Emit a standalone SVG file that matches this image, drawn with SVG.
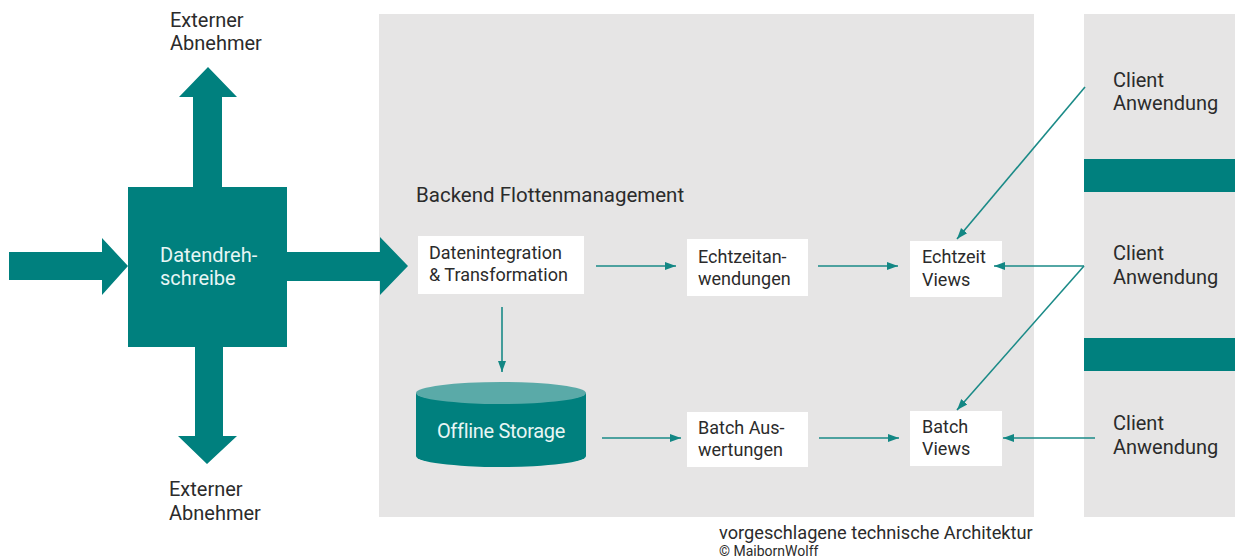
<svg xmlns="http://www.w3.org/2000/svg" width="1235" height="560" viewBox="0 0 1235 560">
  <defs>
    <style>
      .t { font-family: Roboto, "Liberation Sans", sans-serif; fill: #2b2b2b; }
      .t20 { font-size: 20px; }
      .t18 { font-size: 18px; }
      .w { fill: #e8f6f5; }
      .teal { fill: #00807e; }
      .panel { fill: #e6e5e5; }
      .box { fill: #ffffff; }
      .conn { stroke: #1a8a87; stroke-width: 1.6; fill: none; marker-end: url(#ah); }
    </style>
    <marker id="ah" markerUnits="userSpaceOnUse" markerWidth="12" markerHeight="10" refX="11" refY="5" orient="auto">
      <path d="M0,1 L11,5 L0,9 Z" fill="#138784"/>
    </marker>
  </defs>

  <rect width="1235" height="560" fill="#ffffff"/>

  <!-- panels -->
  <g id="backend-panel">
    <rect class="panel" x="379" y="14" width="655" height="503"/>
    <text class="t" x="416" y="202" font-size="20.5">Backend Flottenmanagement</text>
  </g>
  <g id="client-panel">
    <rect class="panel" x="1084" y="14" width="151" height="503"/>
    <rect class="teal" x="1084" y="159" width="151" height="33"/>
    <rect class="teal" x="1084" y="338" width="151" height="33"/>
  </g>

  <!-- Datendrehschreibe with big arrows -->
  <g id="datendrehschreibe">
    <path class="teal" d="M9,252 H102 V238 L128,266 L102,295 V280 H9 Z"/>
    <path class="teal" d="M193,187 V97 H179 L208,67 L237,97 H222 V187 Z"/>
    <path class="teal" d="M195,347 V436 H178 L207,464 L237,436 H223 V347 Z"/>
    <path class="teal" d="M287,252 H380 V237 L408,266 L380,295 V281 H287 Z"/>
    <rect class="teal" x="128" y="187" width="159" height="160"/>
    <text class="t t20 w" x="160" y="262">Datendreh-</text>
    <text class="t t20 w" x="160" y="285">schreibe</text>
  </g>

  <g id="extern-top">
    <text class="t t20" x="170" y="27">Externer</text>
    <text class="t t20" x="170" y="50">Abnehmer</text>
  </g>
  <g id="extern-bottom">
    <text class="t t20" x="169" y="496">Externer</text>
    <text class="t t20" x="169" y="520">Abnehmer</text>
  </g>

  <g id="datenintegration">
    <rect class="box" x="418" y="236" width="166" height="58"/>
    <text class="t t18" x="429" y="259">Datenintegration</text>
    <text class="t t18" x="429" y="281">&amp; Transformation</text>
  </g>

  <g id="offline-storage">
    <path class="teal" d="M416,393 V456 A85,11 0 0 0 586,456 V393 Z"/>
    <ellipse cx="501" cy="393" rx="85" ry="11" fill="#5aaaa8"/>
    <text class="t t20 w" x="501" y="438" text-anchor="middle" letter-spacing="-0.3">Offline Storage</text>
  </g>

  <g id="echtzeitanwendungen">
    <rect class="box" x="687" y="239" width="121" height="57"/>
    <text class="t t18" x="698" y="263">Echtzeitan-</text>
    <text class="t t18" x="698" y="285">wendungen</text>
  </g>

  <g id="batch-auswertungen">
    <rect class="box" x="687" y="412" width="121" height="55"/>
    <text class="t t18" x="698" y="434">Batch Aus-</text>
    <text class="t t18" x="698" y="456">wertungen</text>
  </g>

  <g id="echtzeit-views">
    <rect class="box" x="910" y="241" width="92" height="56"/>
    <text class="t t18" x="922" y="263">Echtzeit</text>
    <text class="t t18" x="922" y="286">Views</text>
  </g>

  <g id="batch-views">
    <rect class="box" x="910" y="411" width="92" height="55"/>
    <text class="t t18" x="922" y="433">Batch</text>
    <text class="t t18" x="922" y="455">Views</text>
  </g>

  <g id="client-1">
    <text class="t t20" x="1113" y="87">Client</text>
    <text class="t t20" x="1113" y="110">Anwendung</text>
  </g>
  <g id="client-2">
    <text class="t t20" x="1113" y="260">Client</text>
    <text class="t t20" x="1113" y="284">Anwendung</text>
  </g>
  <g id="client-3">
    <text class="t t20" x="1113" y="430">Client</text>
    <text class="t t20" x="1113" y="454">Anwendung</text>
  </g>

  <!-- connectors -->
  <g id="connectors">
    <line class="conn" x1="502" y1="307" x2="502" y2="372"/>
    <line class="conn" x1="596" y1="266" x2="676" y2="266"/>
    <line class="conn" x1="602" y1="438" x2="681" y2="438"/>
    <line class="conn" x1="818" y1="266" x2="898" y2="266"/>
    <line class="conn" x1="819" y1="438" x2="899" y2="438"/>
    <line class="conn" x1="1085" y1="87" x2="957" y2="239"/>
    <line class="conn" x1="1084" y1="266" x2="994" y2="266"/>
    <line class="conn" x1="1084" y1="266" x2="957" y2="410"/>
    <line class="conn" x1="1095" y1="438" x2="1003" y2="438"/>
  </g>

  <g id="caption">
    <text class="t" x="719" y="539" font-size="18.2">vorgeschlagene technische Architektur</text>
    <text class="t" x="719" y="556" font-size="14">© MaibornWolff</text>
  </g>
</svg>
